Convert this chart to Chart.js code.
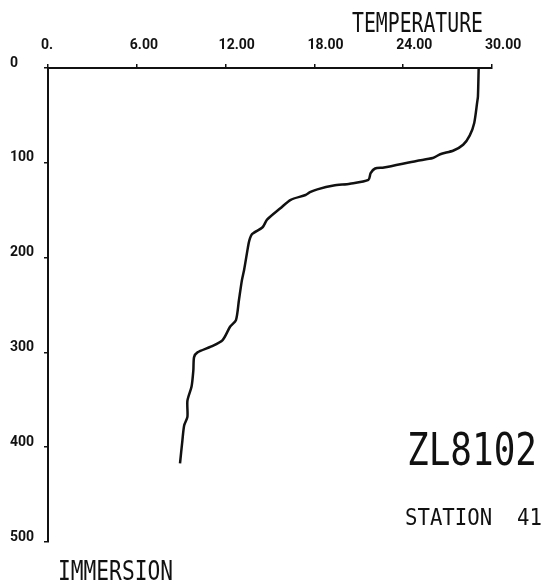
<!DOCTYPE html>
<html>
<head>
<meta charset="utf-8">
<script src="https://cdn.jsdelivr.net/npm/chart.js@4/dist/chart.umd.min.js"></script>
<style>
  html, body { margin: 0; padding: 0; background: #fff; }
  #wrap { position: relative; width: 558px; height: 584px; }
  canvas { display: block; }
</style>
</head>
<body>
<div id="wrap"><canvas id="c" width="558" height="584"></canvas></div>
<script>
// ---- data (depth in m, temperature in °C) ----
const depths = [0, 30, 36, 58, 71, 81, 87, 91, 95, 98, 105, 106, 111, 118, 122, 124, 128, 131, 134, 139, 148, 160, 168, 175, 182, 190, 213, 224, 245, 266, 273, 287, 294, 300, 305, 319, 336, 351, 368, 377, 393, 417];
const temperatures = [29.1, 29.05, 29.0, 28.8, 28.5, 28.05, 27.4, 26.5, 26.0, 24.9, 22.7, 22.1, 21.8, 21.65, 20.4, 19.3, 18.2, 17.7, 17.4, 16.4, 15.7, 14.8, 14.5, 13.8, 13.6, 13.5, 13.25, 13.1, 12.9, 12.7, 12.3, 11.8, 11.0, 10.1, 9.87, 9.82, 9.7, 9.42, 9.42, 9.2, 9.08, 8.92];
const tempTicks = [0, 6, 12, 18, 24, 30];
const depthTicks = [0, 100, 200, 300, 400, 500];
const xTitle = "TEMPERATURE";
const yTitle = "IMMERSION";
const cruise = "ZL8102";
const station = "STATION  41";

const points = depths.map((d, i) => ({ x: temperatures[i], y: d }));
const INK = '#111';
const tickFont = { family: "Roboto, 'Liberation Sans', sans-serif", size: 14, weight: 'bold' };

function drawFitted(ctx, text, left, baseline, width, fontPx, weight) {
  ctx.save();
  ctx.font = (weight || 'normal') + ' ' + fontPx + "px 'DejaVu Sans Mono', monospace";
  const w = ctx.measureText(text).width;
  ctx.translate(left, baseline);
  ctx.scale(width / w, 1);
  ctx.fillStyle = INK;
  ctx.textBaseline = 'alphabetic';
  ctx.textAlign = 'left';
  ctx.fillText(text, 0, 0);
  ctx.restore();
}

const annotations = {
  id: 'annotations',
  beforeDraw(chart) {
    const ctx = chart.ctx;
    ctx.save();
    ctx.fillStyle = '#fff';
    ctx.fillRect(0, 0, chart.width, chart.height);
    ctx.restore();
  },
  afterDraw(chart) {
    const ctx = chart.ctx;
    drawFitted(ctx, xTitle, 352, 32, 131, 27, 'normal');
    drawFitted(ctx, yTitle, 58, 580, 115, 27, 'normal');
    drawFitted(ctx, cruise, 407, 465, 130, 44, 'normal');
    drawFitted(ctx, station, 405, 525, 137, 23, 'normal');
  }
};

new Chart(document.getElementById('c'), {
  type: 'scatter',
  data: {
    datasets: [{
      data: points,
      showLine: true,
      borderColor: INK,
      borderWidth: 2.5,
      pointRadius: 0,
      tension: 0.25,
      fill: false
    }]
  },
  options: {
    responsive: false,
    animation: false,
    layout: { padding: { left: 10, top: 0, right: 66, bottom: 42 } },
    plugins: { legend: { display: false }, tooltip: { enabled: false } },
    scales: {
      x: {
        type: 'linear',
        position: 'top',
        min: 0, max: 30,
        afterBuildTicks(scale) { scale.ticks = tempTicks.map(v => ({ value: v })); },
        afterFit(scale) { scale.height = 68; },
        ticks: {
          color: INK,
          font: tickFont,
          padding: 10,
          maxRotation: 0,
          align: 'start',
          labelOffset: -7,
          callback: v => v === 0 ? '0.' : v.toFixed(2)
        },
        grid: { drawOnChartArea: false, drawTicks: true, tickLength: 4, color: INK, lineWidth: 1.5 },
        border: { display: true, color: INK, width: 2 }
      },
      y: {
        type: 'linear',
        position: 'left',
        reverse: true,
        min: 0, max: 500,
        afterBuildTicks(scale) { scale.ticks = depthTicks.map(v => ({ value: v })); },
        afterFit(scale) { scale.width = 38; },
        ticks: {
          color: INK,
          font: tickFont,
          crossAlign: 'far',
          labelOffset: -5,
          callback: v => String(v)
        },
        grid: { drawOnChartArea: false, drawTicks: true, tickLength: 4, color: INK, lineWidth: 1.5 },
        border: { display: true, color: INK, width: 2 }
      }
    }
  },
  plugins: [annotations]
});
</script>
</body>
</html>
